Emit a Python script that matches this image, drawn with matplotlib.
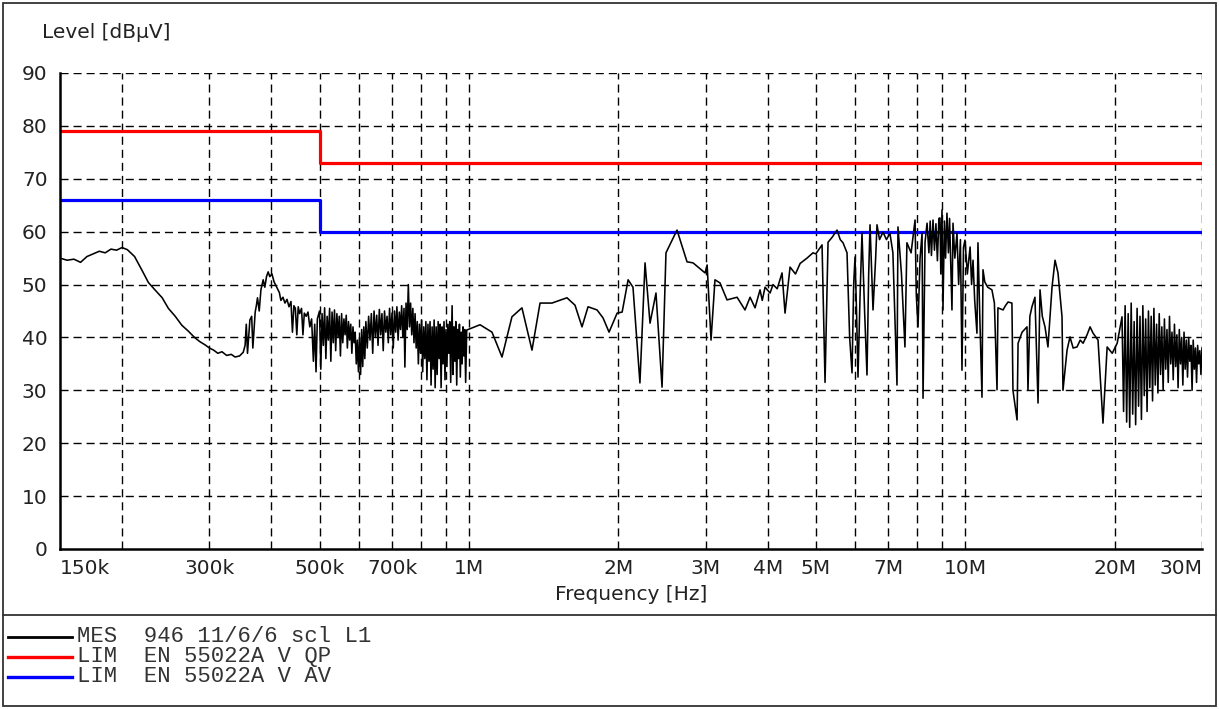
import matplotlib
matplotlib.use('Agg')
import matplotlib.pyplot as plt
from matplotlib.patches import Rectangle
from matplotlib.lines import Line2D
import numpy as np

mes_f = [
    0.150, 0.155, 0.160, 0.165, 0.170, 0.175, 0.180, 0.185, 0.190, 0.195,
    0.200, 0.205, 0.212, 0.220, 0.226, 0.233, 0.241, 0.248, 0.256, 0.264,
    0.272, 0.280, 0.287, 0.294, 0.300, 0.306, 0.312, 0.318, 0.325, 0.332,
    0.338, 0.345, 0.351,
    0.354, 0.356, 0.358, 0.362, 0.365, 0.367, 0.371, 0.373, 0.375, 0.378,
    0.381, 0.385, 0.388, 0.391, 0.394, 0.397, 0.401, 0.405, 0.410, 0.415,
    0.418, 0.422, 0.426, 0.430, 0.434, 0.438, 0.441, 0.444, 0.447, 0.450,
    0.453, 0.456, 0.460, 0.463, 0.466, 0.470, 0.474, 0.478, 0.482, 0.486,
    0.489, 0.492, 0.495,
    0.500, 0.503, 0.506, 0.509, 0.512, 0.515, 0.518, 0.521, 0.524, 0.527,
    0.530, 0.533, 0.536, 0.539, 0.542, 0.545, 0.548, 0.551, 0.554, 0.557,
    0.560, 0.563, 0.566, 0.569, 0.572, 0.575, 0.578, 0.581, 0.584, 0.587,
    0.590, 0.593, 0.596, 0.599, 0.602, 0.605, 0.608, 0.611, 0.614, 0.617,
    0.620, 0.624, 0.628, 0.632, 0.636, 0.640, 0.644, 0.648, 0.652, 0.656,
    0.660, 0.664, 0.668, 0.672, 0.676, 0.680, 0.684, 0.688, 0.692, 0.696,
    0.700, 0.704, 0.708, 0.712, 0.716, 0.720, 0.724, 0.728, 0.732, 0.736,
    0.740, 0.743, 0.747, 0.751, 0.755, 0.759, 0.763, 0.767, 0.771, 0.775,
    0.779, 0.783, 0.787, 0.791, 0.795, 0.799, 0.803, 0.807, 0.811, 0.815,
    0.819, 0.823, 0.827, 0.831, 0.835, 0.839, 0.843, 0.847, 0.851, 0.855,
    0.859, 0.863, 0.867, 0.871, 0.875, 0.879, 0.883, 0.887, 0.891, 0.895,
    0.899, 0.903, 0.907, 0.911, 0.915, 0.919, 0.925, 0.929, 0.933, 0.937,
    0.941, 0.945, 0.949, 0.953, 0.957, 0.961, 0.965, 0.969, 0.973, 0.977,
    0.981, 0.985, 0.990,
    1.053, 1.113, 1.166, 1.221, 1.279, 1.340, 1.391, 1.470, 1.576, 1.636,
    1.690, 1.738, 1.812, 1.863, 1.916, 1.989, 2.036, 2.093, 2.141, 2.211,
    2.264, 2.317, 2.382, 2.450, 2.495, 2.626, 2.751, 2.829, 2.991, 3.020,
    3.075, 3.132, 3.206, 3.312, 3.470, 3.600, 3.686, 3.772, 3.860, 3.900,
    3.951, 4.044, 4.100, 4.180, 4.275, 4.335, 4.437, 4.550, 4.650, 4.800,
    4.935, 5.000, 5.147, 5.219, 5.292, 5.400, 5.517,
    5.600, 5.673, 5.750, 5.779, 5.850, 5.915, 5.960, 5.998, 6.040, 6.081,
    6.140, 6.195, 6.270, 6.340, 6.390, 6.430, 6.520, 6.600, 6.642, 6.720,
    6.829, 6.940, 7.053, 7.150, 7.287, 7.320, 7.440, 7.561, 7.631, 7.780,
    7.924, 7.970, 8.034, 8.110, 8.186, 8.223, 8.300, 8.378,
    8.450, 8.500, 8.550, 8.612, 8.670, 8.730, 8.790, 8.850, 8.895, 8.930,
    8.979, 9.020, 9.080, 9.130, 9.188, 9.250, 9.300, 9.350, 9.404, 9.450,
    9.530, 9.626, 9.700, 9.780, 9.852, 9.920, 9.990, 10.10, 10.23, 10.30,
    10.37, 10.45, 10.56, 10.61, 10.70, 10.81, 10.86, 10.95, 11.10, 11.32,
    11.45, 11.59, 11.64, 11.92, 12.05, 12.20, 12.42, 12.48, 12.72, 12.78,
    13.02, 13.32, 13.38, 13.50, 13.63, 13.82, 14.02, 14.15, 14.30, 14.48,
    14.68, 14.96, 15.17, 15.38, 15.67, 15.74, 16.04, 16.26, 16.50, 16.80,
    17.05, 17.28, 17.60, 17.85, 18.10, 18.52, 18.95, 19.32, 19.78, 20.24,
    20.70,
    20.85, 21.00, 21.15, 21.30, 21.45, 21.60, 21.75, 21.90, 22.05, 22.20,
    22.35, 22.50, 22.65, 22.80, 22.95, 23.10, 23.25, 23.40, 23.55, 23.70,
    23.85, 24.00, 24.15, 24.30, 24.45, 24.60, 24.75, 24.90, 25.05, 25.20,
    25.35, 25.50, 25.65, 25.80, 25.95, 26.10, 26.25, 26.40, 26.55, 26.70,
    26.85, 27.00, 27.15, 27.30, 27.45, 27.60, 27.75, 27.90, 28.05, 28.20,
    28.35, 28.50, 28.65, 28.80, 28.95, 29.10, 29.25, 29.40, 29.55, 29.70,
    29.85, 30.00,
]
mes_db = [
    55.0, 54.6, 54.8, 54.2, 55.3, 55.8, 56.3, 56.0, 56.7, 56.5,
    57.0, 56.6, 55.3, 52.5, 50.4, 49.0, 47.5, 45.5, 44.0, 42.3,
    41.2, 40.0, 39.2, 38.6, 38.0, 37.6, 37.0, 37.3, 36.6, 36.8,
    36.3, 36.5, 37.2,
    38.5, 42.5, 37.0, 43.3, 44.0, 38.0, 44.8, 46.0, 47.5, 45.0,
    49.0, 50.9, 49.5, 51.5, 52.4, 51.5, 52.0, 50.5, 49.5, 48.5,
    47.0, 47.6, 46.5, 47.2, 45.8, 46.8, 41.0, 46.0, 45.5, 40.5,
    45.8, 44.5, 45.5, 40.5, 44.6, 44.0, 44.8, 42.0, 43.5, 35.5,
    42.5, 33.5, 43.5,
    45.0, 34.0, 44.5, 38.5, 45.6, 36.0, 44.0, 39.5, 45.5, 35.5,
    44.8, 39.0, 45.2, 37.5, 44.5, 40.0, 44.0, 36.5, 44.5, 39.0,
    43.5, 40.5, 44.2, 38.0, 43.0, 39.5, 42.5, 37.0, 42.0, 39.0,
    41.0, 35.0, 39.5, 33.5, 40.0, 33.0, 41.5, 34.5, 42.0, 36.0,
    43.0, 38.0, 44.0, 39.5, 44.5, 37.0, 45.0, 40.0, 44.2, 38.5,
    45.3, 40.5, 44.5, 37.5, 45.0, 41.0, 44.0, 39.0, 45.5, 40.5,
    44.6, 38.0, 45.0, 41.0, 45.8, 39.5, 44.8, 41.5, 46.0, 40.0,
    45.5, 34.4, 46.5, 41.5, 50.0, 42.0, 46.5, 40.5, 45.5, 39.0,
    44.5, 38.0, 43.0, 35.0, 42.5, 37.0, 43.3, 33.5, 42.0, 36.0,
    43.0, 32.0, 42.5, 35.5, 43.0, 31.0, 42.0, 34.0, 43.3, 30.5,
    42.0, 33.0, 43.0, 36.0, 42.5, 30.5, 42.0, 35.0, 43.0, 32.0,
    41.5, 34.5, 42.5, 37.0, 43.0, 31.5, 46.0, 33.0, 42.0, 35.5,
    43.0, 31.0, 41.5, 36.0, 42.5, 32.5, 41.0, 35.0, 42.0, 36.5,
    41.5, 31.5, 41.4,
    42.4, 41.0, 36.3, 43.9, 45.6, 37.6, 46.5, 46.5, 47.5, 46.1,
    42.0, 45.8, 45.2, 43.7, 41.0, 44.6, 44.8, 50.9, 49.5, 31.4,
    54.1, 42.7, 48.4, 30.6, 56.0, 60.3, 54.3, 54.1, 52.2, 53.7,
    39.5, 50.9, 50.3, 47.1, 47.6, 45.2, 47.6, 45.6, 49.0, 47.0,
    49.5, 48.4, 50.0, 49.2, 52.2, 44.6, 53.3, 52.0, 54.0, 55.0,
    56.0, 55.8, 57.5, 31.5, 58.0, 59.0, 60.3,
    58.5, 57.9, 56.5, 56.0, 40.0, 33.3, 50.0, 55.2, 45.0, 32.5,
    48.0, 59.7, 45.0, 32.9, 52.0, 61.3, 45.2, 55.0, 61.3, 58.5,
    59.9, 58.5, 59.7, 56.0, 31.0, 60.9, 52.0, 38.2, 57.9, 56.0,
    62.2, 48.0, 42.0, 55.0, 59.7, 28.5, 58.0, 61.6,
    56.0, 62.0, 55.5, 62.2, 56.5, 61.5, 54.5, 62.5, 62.6, 52.0,
    64.1, 45.2, 62.0, 55.0, 63.5, 56.0, 62.5, 54.0, 45.2, 61.6,
    55.0, 59.7, 50.0, 58.5, 33.8, 57.0, 58.4, 52.0, 57.1, 50.0,
    54.6, 47.0, 40.8, 57.9, 44.0, 28.7, 52.8, 50.5, 49.5, 49.0,
    46.5, 30.1, 45.6, 45.2, 46.0, 46.7, 46.5, 30.0, 24.4, 38.9,
    41.0, 42.0, 30.0, 44.0, 45.8, 47.6, 27.6, 49.0, 44.0, 42.0,
    38.2, 49.5, 54.6, 52.2, 43.9, 30.0, 37.6, 40.1, 38.0, 38.2,
    39.5, 38.9, 40.5, 42.0, 40.8, 39.5, 23.8, 38.2, 37.0, 38.9,
    43.9,
    26.0, 46.0, 24.0, 44.5, 23.0, 46.5, 25.5, 43.0, 23.5, 45.5,
    27.0, 44.0, 24.5, 46.0, 29.0, 43.5, 26.0, 45.0, 30.5, 44.0,
    28.0, 45.5, 31.0, 42.5, 29.5, 44.5, 33.0, 42.0, 30.0, 43.5,
    34.0, 41.5, 31.5, 44.0, 35.0, 41.0, 32.0, 42.5, 34.5, 40.5,
    30.5, 41.5, 35.0, 40.0, 31.0, 41.0, 34.0, 39.5, 32.5, 40.0,
    35.5, 38.5, 30.0, 39.5, 34.0, 38.0, 31.5, 38.5, 35.0, 37.5,
    33.0, 38.0,
]

# EN 55022 class A limits
lim_f = [0.15, 0.5, 0.5, 30.0]
lim_qp = [79, 79, 73, 73]
lim_av = [66, 66, 60, 60]

grid_f = [0.2, 0.3, 0.4, 0.5, 0.6, 0.7, 0.8, 0.9, 1, 2, 3, 4, 5, 6, 7, 8, 9, 10, 20, 30]
label_f = [0.15, 0.3, 0.5, 0.7, 1, 2, 3, 4, 5, 7, 10, 20, 30]
label_txt = ['150k', '300k', '500k', '700k', '1M', '2M', '3M', '4M', '5M', '7M', '10M', '20M', '30M']
y_ticks = [0, 10, 20, 30, 40, 50, 60, 70, 80, 90]

legend_rows = [
    ('black', 'MES  946 11/6/6 scl L1'),
    ('#ff0000', 'LIM  EN 55022A V QP'),
    ('#0000ff', 'LIM  EN 55022A V AV'),
]

W, H = 1219, 709
fig = plt.figure(figsize=(W / 100, H / 100), dpi=100)
ax = fig.add_axes([60 / W, 1 - 549 / H, 1142 / W, 476 / H])

ax.plot(lim_f, lim_qp, color='#ff0000', lw=2.3, zorder=3)
ax.plot(lim_f, lim_av, color='#0000ff', lw=2.3, zorder=3)
ax.plot(mes_f, mes_db, color='black', lw=1.15, zorder=4)

ax.set_xscale('log')
ax.set_xlim(0.15, 30)
ax.set_ylim(0, 90)

# dashed grid
dash = (0, (5.8, 3.6))
for f in grid_f:
    ax.axvline(f, color='black', lw=1.0, linestyle=dash, zorder=1)
for y in y_ticks[1:]:
    ax.axhline(y, color='black', lw=1.0, linestyle=dash, zorder=1)

ax.set_xticks(label_f)
ax.set_xticklabels(label_txt)
ax.xaxis.set_minor_locator(matplotlib.ticker.NullLocator())
ax.set_yticks(y_ticks)
ax.tick_params(axis='both', length=0, labelsize=14.5, colors='#222222')
ax.tick_params(axis='x', pad=7)
ax.tick_params(axis='y', pad=9)
xl = ax.get_xticklabels()
xl[0].set_ha('left')
xl[-1].set_ha('right')

for s in ['top', 'right']:
    ax.spines[s].set_visible(False)
for s in ['left', 'bottom']:
    ax.spines[s].set_linewidth(1.8)
    ax.spines[s].set_zorder(5)

fig.text(42 / W, 1 - 33 / H, 'Level [dB\u00b5V]', fontsize=14.5, va='center', ha='left', color='#222222')
fig.text(631 / W, 1 - 594 / H, 'Frequency [Hz]', fontsize=14.5, va='center', ha='center', color='#222222')

# outer frame and legend separator
fig.add_artist(Rectangle((3 / W, 3 / H), 1213 / W, 703 / H, transform=fig.transFigure,
                         fill=False, edgecolor='#333333', lw=1.3))
fig.add_artist(Line2D([3 / W, 1216 / W], [1 - 615 / H, 1 - 615 / H], transform=fig.transFigure,
                      color='#333333', lw=1.3))

for i, (c, txt) in enumerate(legend_rows):
    y = 1 - (637 + 20 * i) / H
    fig.add_artist(Line2D([8 / W, 72 / W], [y, y], transform=fig.transFigure,
                          color=c, lw=2.0 if i == 0 else 2.4))
    fig.text(77 / W, y - 5 / H, txt, fontsize=16, family='Liberation Mono',
             va='baseline', ha='left', color='#333333')

fig.savefig('out.png', dpi=100)
